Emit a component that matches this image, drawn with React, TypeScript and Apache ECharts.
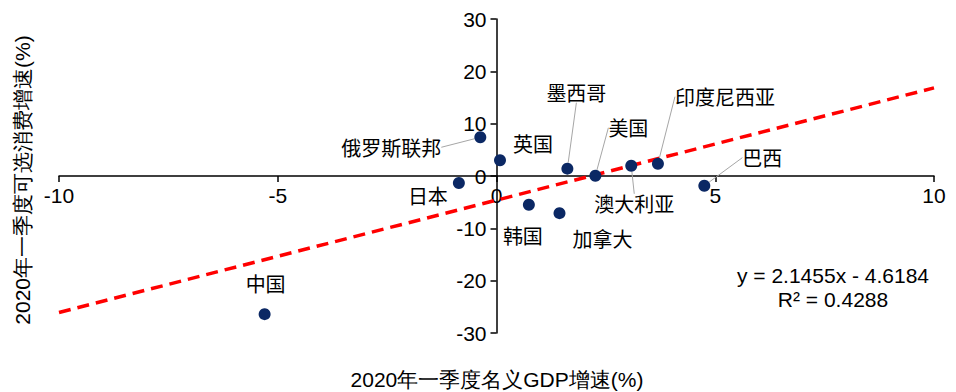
import React, { useEffect, useRef } from "react";
import * as echarts from "echarts";

const countries = ["中国", "俄罗斯联邦", "英国", "日本", "韩国", "加拿大", "墨西哥", "美国", "澳大利亚", "印度尼西亚", "巴西"];
const gdpGrowth = [-5.3, -0.37, 0.08, -0.86, 0.74, 1.44, 1.62, 2.26, 3.08, 3.69, 4.75];
const consumptionGrowth = [-26.4, 7.4, 3.0, -1.35, -5.5, -7.1, 1.4, 0.05, 1.95, 2.35, -1.85];
const trendX = [-10, 10];
const trendY = [-26.07, 16.84];
const xTicks = { min: -10, max: 10, interval: 5 };
const yTicks = { min: -30, max: 30, interval: 10 };
const equationText = "y = 2.1455x - 4.6184";
const r2Text = "R² = 0.4288";
const xName = "2020年一季度名义GDP增速(%)";
const yName = "2020年一季度可选消费增速(%)";

// label offsets (dx, dy) from the point and whether a leader line is drawn
const labelOffsets: [number, number, boolean][] = [
  [1, -31, false],
  [-89, 10, true],
  [33, -17, false],
  [-31, 12, false],
  [-6, 31, false],
  [43, 25, false],
  [9, -76, true],
  [33, -48, true],
  [3, 38, true],
  [67, -67, true],
  [58, -28, true],
];

export default function App() {
  const ref = useRef<HTMLDivElement>(null);
  useEffect(() => {
    if (!ref.current) return;
    const chart = echarts.init(ref.current, undefined, { renderer: "svg" });
    const numFont = "'Liberation Sans', Arial, sans-serif";
    const cjkFont = "'Noto Sans CJK SC', sans-serif";
    chart.setOption({
      animation: false,
      grid: { left: 59, right: 22, top: 19, bottom: 59, containLabel: false },
      xAxis: {
        type: "value",
        position: "bottom",
        offset: -157,
        min: xTicks.min,
        max: xTicks.max,
        interval: xTicks.interval,
        axisLine: { onZero: false, lineStyle: { color: "#000", width: 1.5 } },
        axisTick: { show: true, inside: false, length: 6, lineStyle: { color: "#000", width: 1.5 } },
        axisLabel: { color: "#000", fontSize: 21, fontFamily: numFont, margin: 9 },
        splitLine: { show: false },
      },
      yAxis: {
        type: "value",
        position: "left",
        offset: -437.5,
        min: yTicks.min,
        max: yTicks.max,
        interval: yTicks.interval,
        axisLine: { onZero: false, lineStyle: { color: "#000", width: 1.5 } },
        axisTick: { show: true, inside: false, length: 6, lineStyle: { color: "#000", width: 1.5 } },
        axisLabel: { color: "#000", fontSize: 21, fontFamily: numFont, margin: 10 },
        splitLine: { show: false },
      },
      series: [
        {
          type: "line",
          data: trendX.map((x, i) => [x, trendY[i]]),
          symbol: "none",
          lineStyle: { color: "#ff0000", width: 3.5, type: [12, 7] },
          z: 1,
        },
        {
          type: "scatter",
          symbolSize: 12,
          itemStyle: { color: "#0b2864", opacity: 1 },
          z: 3,
          data: countries.map((name, i) => ({
            name,
            value: [gdpGrowth[i], consumptionGrowth[i]],
            labelLine: { show: labelOffsets[i][2] },
          })),
          label: {
            show: true,
            position: "inside",
            formatter: "{b}",
            color: "#000",
            fontSize: 20,
            fontFamily: cjkFont,
          },
          labelLine: { show: false, lineStyle: { color: "#a6a6a6", width: 1 } },
          labelLayout: (params: any) => ({
            dx: labelOffsets[params.dataIndex][0],
            dy: labelOffsets[params.dataIndex][1],
          }),
        },
      ],
      graphic: [
        {
          type: "text",
          x: 833,
          y: 275,
          style: { text: equationText, fill: "#000", font: `21px ${numFont}`, textAlign: "center", textVerticalAlign: "middle" },
        },
        {
          type: "text",
          x: 833,
          y: 299,
          style: { text: r2Text, fill: "#000", font: `21px ${numFont}`, textAlign: "center", textVerticalAlign: "middle" },
        },
        {
          type: "text",
          x: 497,
          y: 379,
          style: { text: xName, fill: "#000", font: `21px ${numFont}`, textAlign: "center", textVerticalAlign: "middle" },
        },
        {
          type: "text",
          x: 22,
          y: 180,
          rotation: Math.PI / 2,
          style: { text: yName, fill: "#000", font: `21px ${numFont}`, textAlign: "center", textVerticalAlign: "middle" },
        },
      ],
    });
    return () => chart.dispose();
  }, []);
  return <div ref={ref} style={{ width: 956, height: 392, position: "absolute", left: 0, top: 0 }} />;
}
